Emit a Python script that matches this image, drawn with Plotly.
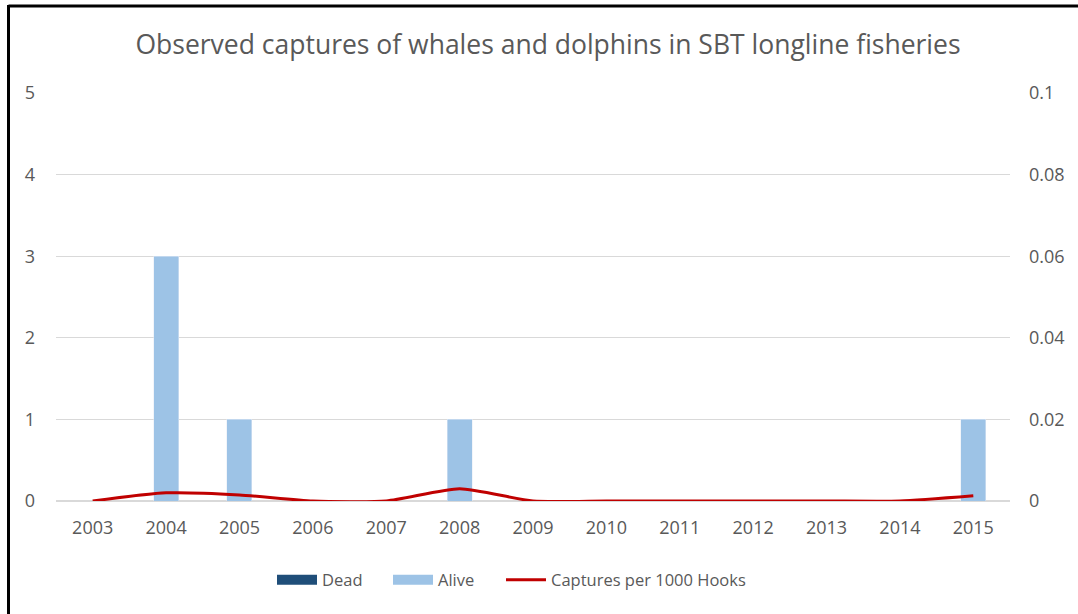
import plotly.graph_objects as go

years = [str(y) for y in range(2003, 2016)]
dead = [0, 0, 0, 0, 0, 0, 0, 0, 0, 0, 0, 0, 0]
alive = [0, 3, 1, 0, 0, 1, 0, 0, 0, 0, 0, 0, 1]
captures_per_1000 = [0, 0.002, 0.0015, 0, 0, 0.003, 0, 0, 0, 0, 0, 0, 0.0013]

W, H = 1078, 614
L, R, T, B = 56, 68, 93, 113
FONT = "Open Sans"
GREY = "#595959"
DEAD_C = "#1F4E79"
ALIVE_C = "#9DC3E6"
LINE_C = "#C00000"

fig = go.Figure()
fig.add_trace(go.Bar(x=years, y=dead, name="Dead", marker_color=DEAD_C,
                     width=0.34, yaxis="y", showlegend=False, legendgroup="dead"))
fig.add_trace(go.Bar(x=years, y=alive, name="Alive", marker_color=ALIVE_C,
                     width=0.34, yaxis="y", showlegend=False, legendgroup="alive"))
# legend keys drawn as wide flat swatches
fig.add_trace(go.Scatter(x=[None], y=[None], name="Dead", mode="lines",
                         line=dict(color=DEAD_C, width=13), legendgroup="dead",
                         legend="legend"))
fig.add_trace(go.Scatter(x=[None], y=[None], name="Alive", mode="lines",
                         line=dict(color=ALIVE_C, width=13), legendgroup="alive",
                         legend="legend2"))
fig.add_trace(go.Scatter(x=years, y=captures_per_1000, name="Captures per 1000 Hooks",
                         mode="lines", line=dict(color=LINE_C, width=3, shape="spline",
                                                 smoothing=0.6),
                         yaxis="y2", legend="legend3"))

pw = W - L - R
ph = H - T - B
def px_x(x):
    return (x - L) / pw
def px_y(y):
    return (H - B - y) / ph

# outer frame lines (left and top edges)
fig.add_shape(type="line", xref="paper", yref="paper",
              x0=px_x(8.5), x1=px_x(W + 5), y0=px_y(6), y1=px_y(6),
              line=dict(color="black", width=3))
fig.add_shape(type="line", xref="paper", yref="paper",
              x0=px_x(8.5), x1=px_x(8.5), y0=px_y(5), y1=px_y(H + 5),
              line=dict(color="black", width=3))

def legend_at(x_px):
    return dict(orientation="h", x=px_x(x_px), xanchor="left", y=px_y(580),
                yanchor="middle", font=dict(size=16.5, color=GREY), itemwidth=40,
                bgcolor="rgba(0,0,0,0)")

fig.update_layout(
    width=W, height=H,
    margin=dict(l=L, r=R, t=T, b=B),
    paper_bgcolor="white", plot_bgcolor="white",
    barmode="stack",
    font=dict(family=FONT, color=GREY, size=17),
    title=dict(text="Observed captures of whales and dolphins in SBT longline fisheries",
               x=548 / W, xanchor="center", y=1 - 45 / H, yanchor="middle",
               font=dict(family=FONT, size=26.5, color=GREY)),
    xaxis=dict(type="category", showgrid=False, ticks="", showline=False,
               ticklabelstandoff=14, tickfont=dict(size=18, color=GREY)),
    yaxis=dict(range=[0, 5], dtick=1, showgrid=True, gridcolor="#D9D9D9",
               gridwidth=1, zeroline=True, zerolinecolor="#D9D9D9", showline=False,
               ticks="", ticklabelstandoff=20, tickfont=dict(size=18, color=GREY)),
    yaxis2=dict(range=[0, 0.1], dtick=0.02, overlaying="y", side="right",
                showgrid=False, zeroline=False, showline=False, ticks="",
                ticklabelstandoff=18, tickfont=dict(size=18, color=GREY)),
    legend=legend_at(272),
    legend2=legend_at(388),
    legend3=legend_at(501),
    showlegend=True,
)

fig.write_html("out.html")
